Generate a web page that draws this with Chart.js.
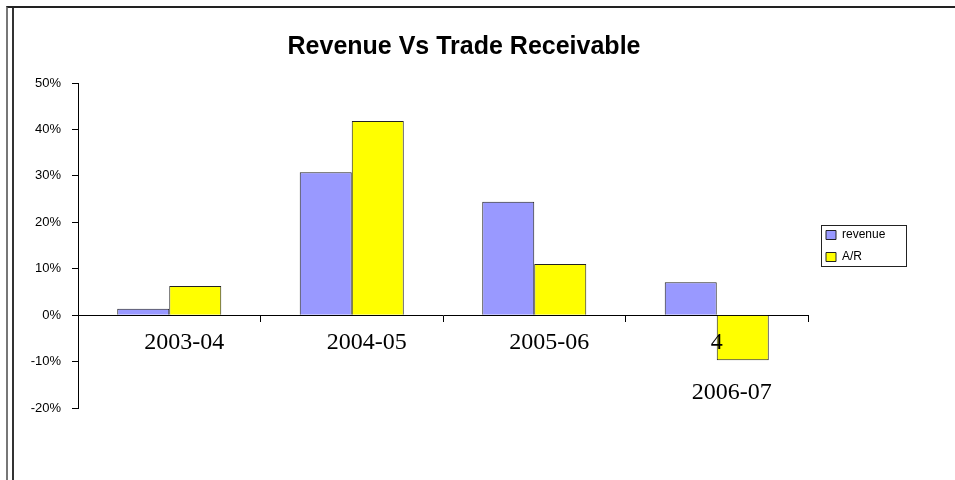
<!DOCTYPE html>
<html>
<head>
<meta charset="utf-8">
<title>Revenue Vs Trade Receivable</title>
<script src="https://cdn.jsdelivr.net/npm/chart.js@4.4.1/dist/chart.umd.min.js"></script>
<style>
    html, body { margin: 0; padding: 0; background: #fff; }
    .wrap { position: relative; width: 955px; height: 480px; overflow: hidden; }
    .frame { position: absolute; left: 6px; top: 6px; right: -10px; bottom: -10px;
             border-top: 2px solid #222; border-left: 2px solid #777; pointer-events: none; }
    .frame-inner { position: absolute; left: 4px; top: 0; bottom: 0; border-left: 2px solid #333; }
</style>
</head>
<body>
<div class="wrap">
    <canvas id="revenue-chart"></canvas>
    <div class="frame"><div class="frame-inner"></div></div>
</div>
<script>
// Growth figures, percent change year over year
var categories = ['2003-04', '2004-05', '2005-06', '2006-07'];
var revenueGrowth = [1.4, 30.8, 24.4, 7.1];
var receivableGrowth = [6.3, 41.8, 11.0, -9.7];
var tickLabels = ['2003-04', '2004-05', '2005-06', ['4     ', '', '2006-07']];
var yTicks = [-20, -10, 0, 10, 20, 30, 40, 50];

var sansFont = "'Liberation Sans', Arial, sans-serif",
    serifFont = "'Liberation Serif', 'Times New Roman', serif";

// Push the legend away from the plot, give it a fixed width and a frame
const legendBox = {
    id: 'legendBox',
    beforeInit(chart) {
        const fitValue = chart.legend.fit;
        chart.legend.fit = function fit() {
            fitValue.bind(chart.legend)();
            this.width = 120;
        };
    },
    afterLayout(chart) {
        chart.legend.left += 8;
        chart.legend.top += 42;
        chart.legend.bottom += 42;
    },
    afterDraw(chart) {
        const boxes = chart.legend.legendHitBoxes;
        if (!boxes || !boxes.length) return;
        var left = Math.min.apply(null, boxes.map(function (b) { return b.left; }));
        var right = Math.max.apply(null, boxes.map(function (b) { return b.left + b.width; }));
        var top = boxes[0].top;
        var bottom = boxes[boxes.length - 1].top + boxes[boxes.length - 1].height;
        const ctx = chart.ctx;
        ctx.save();
        ctx.strokeStyle = '#222';
        ctx.lineWidth = 1;
        ctx.strokeRect(Math.round(left - 5) + 0.5, Math.round(top - 4) + 0.5,
            Math.round(right - left + 26), Math.round(bottom - top + 7));
        ctx.restore();
    }
};

var ctx = document.getElementById('revenue-chart');

var chart = new Chart(ctx, {
    type: 'bar',
    data: {
        labels: categories,
        datasets: [
            {
                label: 'revenue',
                data: revenueGrowth,
                backgroundColor: '#9999FF',
                borderColor: '#222',
                borderWidth: 1
            },
            {
                label: 'A/R',
                data: receivableGrowth,
                backgroundColor: '#FFFF00',
                borderColor: '#222',
                borderWidth: 1
            }
        ]
    },
    options: {
        responsive: true,
        maintainAspectRatio: false,
        animation: false,
        categoryPercentage: 0.57,
        barPercentage: 1.0,
        layout: {
            padding: { left: 0, right: 27, top: 0, bottom: 72 }
        },
        scales: {
            x: {
                position: { y: 0 },
                grid: {
                    drawOnChartArea: false,
                    drawTicks: true,
                    tickLength: 6,
                    color: '#000'
                },
                border: { color: '#000', width: 1 },
                ticks: {
                    z: 1, // labels sit on top of the bars
                    autoSkip: false,
                    maxRotation: 0,
                    labelOffset: 15,
                    padding: 9,
                    color: '#000',
                    font: { family: serifFont, size: 24, lineHeight: 1.05 },
                    callback: function (value, index) {
                        return tickLabels[index];
                    }
                }
            },
            y: {
                min: yTicks[0],
                max: yTicks[yTicks.length - 1],
                afterFit: function (scale) {
                    scale.width = 78;
                },
                afterBuildTicks: function (scale) {
                    scale.ticks = yTicks.map(function (v) { return { value: v }; });
                },
                grid: {
                    drawOnChartArea: false,
                    drawTicks: true,
                    tickLength: 6,
                    color: '#000'
                },
                border: { color: '#000', width: 1 },
                ticks: {
                    padding: 11,
                    color: '#000',
                    font: { family: sansFont, size: 13 },
                    callback: function (value) {
                        return value + '%';
                    }
                }
            }
        },
        plugins: {
            title: {
                display: true,
                text: 'Revenue Vs Trade Receivable',
                color: '#000',
                font: { family: sansFont, size: 25, weight: 'bold' },
                padding: { top: 32, bottom: 21 }
            },
            legend: {
                position: 'right',
                labels: {
                    color: '#000',
                    boxWidth: 10,
                    boxHeight: 9,
                    padding: 10,
                    font: { family: sansFont, size: 12 }
                }
            },
            tooltip: { enabled: false }
        }
    },
    plugins: [legendBox]
});
</script>
</body>
</html>
